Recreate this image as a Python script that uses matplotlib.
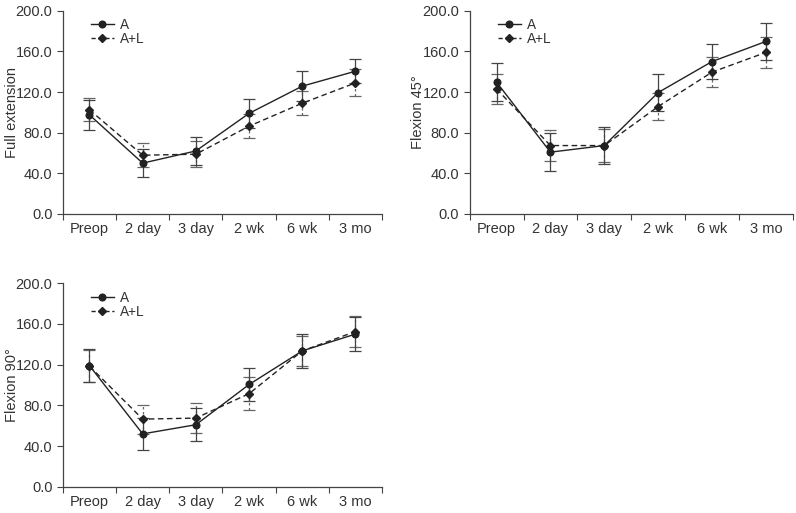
import matplotlib.pyplot as plt
from matplotlib.lines import Line2D
import numpy as np

periods = ['Preop', '2 day', '3 day', '2 wk', '6 wk', '3 mo']

# Full extension
ext_a = [97.5, 50.0, 62.0, 99.0, 125.8, 140.5]
ext_a_sd = [14.5, 14.0, 13.5, 14.0, 14.5, 12.0]
ext_al = [102.5, 57.8, 58.8, 86.4, 109.0, 129.0]
ext_al_sd = [11.5, 12.0, 13.0, 11.5, 11.8, 13.2]

# Flexion 45
f45_a = [129.7, 60.8, 67.3, 119.5, 150.0, 169.8]
f45_a_sd = [18.5, 18.5, 18.0, 18.5, 17.3, 18.0]
f45_al = [123.0, 67.3, 67.3, 105.7, 139.6, 159.0]
f45_al_sd = [15.0, 15.0, 16.0, 13.5, 15.0, 15.5]

# Flexion 90
f90_a = [119.0, 52.0, 61.0, 100.5, 133.5, 150.0]
f90_a_sd = [16.0, 15.5, 16.0, 16.5, 17.0, 17.0]
f90_al = [118.5, 66.5, 67.5, 91.5, 133.5, 152.5]
f90_al_sd = [15.5, 14.2, 14.7, 16.5, 14.5, 15.0]

panels = [
    ('Full extension', ext_a, ext_a_sd, ext_al, ext_al_sd, [0.079, 0.583, 0.401, 0.396]),
    ('Flexion 45°', f45_a, f45_a_sd, f45_al, f45_al_sd, [0.590, 0.583, 0.406, 0.396]),
    ('Flexion 90°', f90_a, f90_a_sd, f90_al, f90_al_sd, [0.079, 0.051, 0.401, 0.397]),
]

plt.rcParams['font.family'] = ['Liberation Sans', 'DejaVu Sans']
fig = plt.figure(figsize=(7.96, 5.13), dpi=100)

x = np.arange(len(periods))
for ylabel, a, a_sd, al, al_sd, pos in panels:
    ax = fig.add_axes(pos)
    eb = ax.errorbar(x, al, yerr=al_sd, color='#222222', ecolor='#666666', lw=1,
                     ls=(0, (4, 2.5)), marker='D', ms=4, capsize=4, elinewidth=0.9,
                     capthick=0.9)
    for c in eb[2]:
        c.set_linestyle((0, (2, 2)))
    ax.errorbar(x, a, yerr=a_sd, color='#222222', ecolor='#444444', lw=1,
                ls='-', marker='o', ms=4.8, capsize=4, elinewidth=0.9,
                capthick=0.9)
    ax.set_xlim(-0.5, 5.5)
    ax.set_ylim(0, 200)
    ax.set_yticks(np.arange(0, 201, 40))
    ax.set_yticklabels([f'{v:.1f}' for v in np.arange(0, 201, 40)])
    ax.set_xticks(x)
    ax.set_xticklabels(periods)
    ax.set_xticks(np.arange(-0.5, 5.6, 1), minor=True)
    ax.tick_params(axis='x', which='major', length=0, pad=6)
    ax.tick_params(axis='x', which='minor', length=4, width=0.8, color='#444444')
    ax.tick_params(axis='y', length=4, width=0.8, color='#444444')
    ax.tick_params(labelsize=10.5, labelcolor='#333333')
    for s in ['top', 'right']:
        ax.spines[s].set_visible(False)
    for s in ['left', 'bottom']:
        ax.spines[s].set_color('#444444')
        ax.spines[s].set_linewidth(0.9)
    ax.set_ylabel(ylabel, fontsize=10.5, color='#333333')
    ax.yaxis.set_label_coords(-0.137, 0.5)
    handles = [
        Line2D([], [], color='#222222', lw=1, marker='o', ms=4.8),
        Line2D([], [], color='#222222', lw=1, ls=(0, (3, 2)), marker='D', ms=4),
    ]
    ax.legend(handles, ['A', 'A+L'], loc='upper left', bbox_to_anchor=(0.07, 0.99),
              frameon=False, fontsize=9.8, handlelength=1.7, handletextpad=0.45,
              labelspacing=0.0, borderaxespad=0.0, labelcolor='#333333')

fig.savefig('out.png', dpi=100)
